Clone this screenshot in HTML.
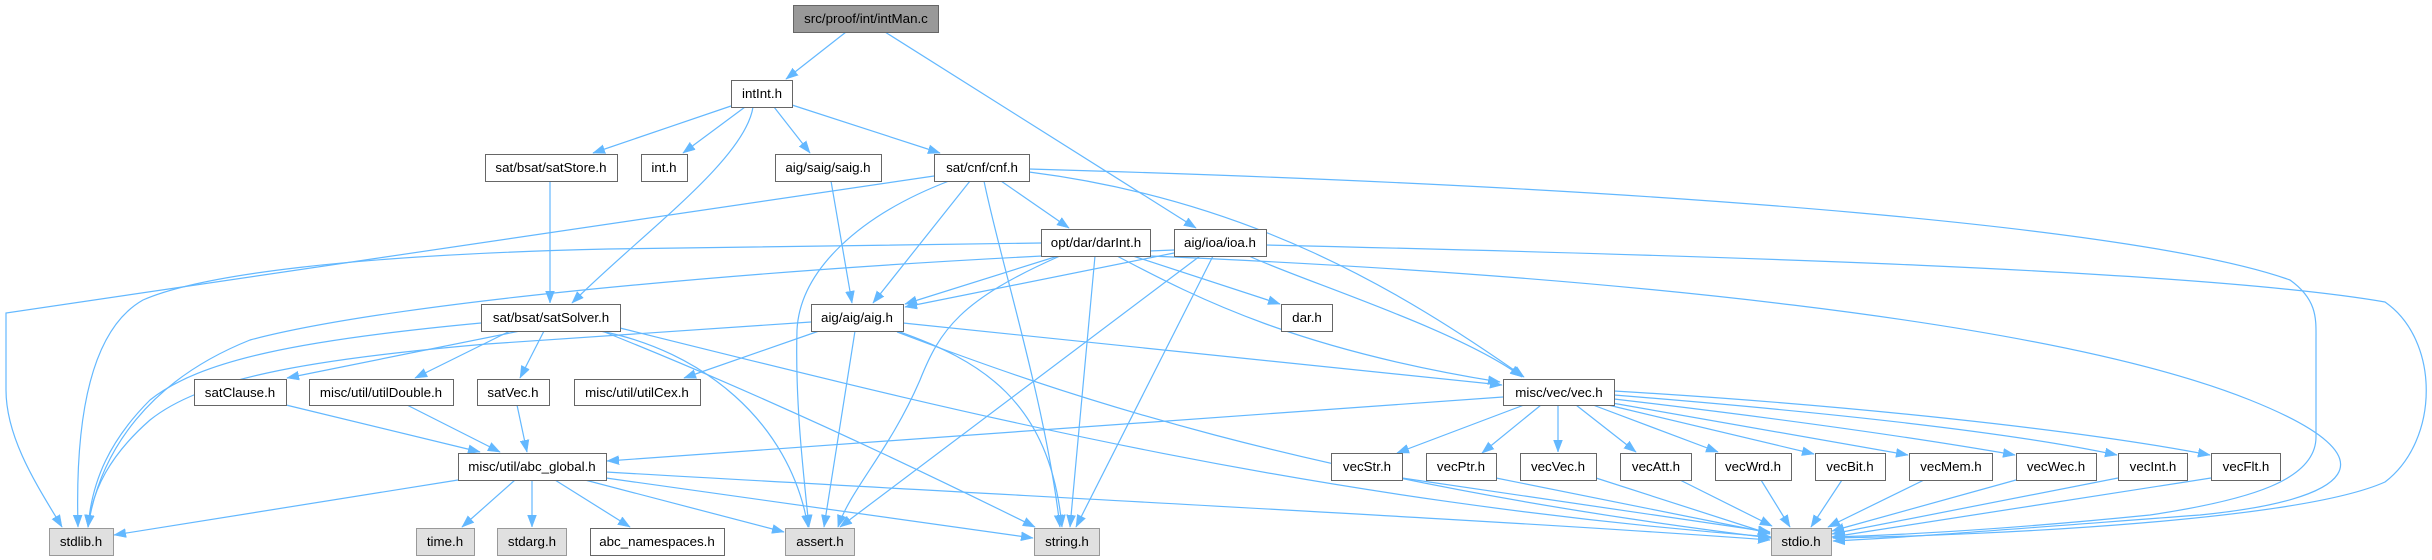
<!DOCTYPE html>
<html><head><meta charset="utf-8"><style>
html,body{margin:0;padding:0;background:#fff;}
svg{display:block;}
text{font-family:"Liberation Sans",Arial,sans-serif;font-size:13.33px;fill:#000;text-anchor:middle;}
.e{fill:none;stroke:#63b8ff;stroke-width:1.2;marker-end:url(#ah);}
.n{fill:#fff;stroke:#666;stroke-width:1;}
.l{fill:#e0e0e0;stroke:#999;stroke-width:1;}
.r{fill:#999;stroke:#666;stroke-width:1;}
</style></head><body>
<svg width="2432" height="560" viewBox="0 0 2432 560" xmlns="http://www.w3.org/2000/svg">
<defs>
<marker id="ah" markerUnits="userSpaceOnUse" markerWidth="13" markerHeight="11" refX="12" refY="5" orient="auto">
<path d="M0,0.5 L12,5 L0,9.5 z" fill="#63b8ff" stroke="#63b8ff" stroke-width="0.5"/>
</marker>
</defs>
<!-- edges -->
<path class="e" d="M846,32 L786,79"/>
<path class="e" d="M885,32 L1196,228"/>
<path class="e" d="M731,106 L593,153"/>
<path class="e" d="M745,107 L683,153"/>
<path class="e" d="M774,107 L810,153"/>
<path class="e" d="M792,105 L940,153"/>
<path class="e" d="M753,107 C745,160 640,235 572,303"/>
<path class="e" d="M550,181 L550,303"/>
<path class="e" d="M831,181 L852,303"/>
<path class="e" d="M934,176 L6,313 L6,390 C6,440 40,490 62,527"/>
<path class="e" d="M949,181 C860,215 800,270 797,330 C795,400 803,470 809,527"/>
<path class="e" d="M970,181 L873,303"/>
<path class="e" d="M984,181 C1000,260 1045,400 1060,527"/>
<path class="e" d="M1001,181 L1069,228"/>
<path class="e" d="M1029,172 C1250,200 1400,290 1524,377"/>
<path class="e" d="M1029,169 C1700,188 2150,230 2290,280 C2318,300 2316,320 2316,340 L2316,437 C2316,480 2250,500 2150,515 C2000,530 1900,535 1833,537"/>
<path class="e" d="M1041,243 L608,249 C350,255 200,275 143,300 C90,330 75,420 78,527"/>
<path class="e" d="M1058,256 L905,304"/>
<path class="e" d="M1060,256 C960,300 940,330 920,380 C890,450 850,490 838,527"/>
<path class="e" d="M1095,256 L1070,527"/>
<path class="e" d="M1133,256 L1280,304"/>
<path class="e" d="M1117,256 C1200,300 1300,350 1500,382"/>
<path class="e" d="M1150,256 C1600,275 2050,320 2250,400 C2400,460 2350,500 2200,515 C2000,530 1900,538 1833,541"/>
<path class="e" d="M1174,250 C800,265 400,300 250,340 C150,380 100,450 88,527"/>
<path class="e" d="M1174,253 L905,307"/>
<path class="e" d="M1200,256 L840,527"/>
<path class="e" d="M1213,256 L1076,527"/>
<path class="e" d="M1249,256 C1300,280 1460,330 1522,377"/>
<path class="e" d="M1266,245 C1700,255 2200,270 2385,302 C2440,340 2440,440 2385,482 C2300,520 2000,535 1833,538"/>
<path class="e" d="M481,323 C300,340 200,360 150,400 C110,440 92,480 88,527"/>
<path class="e" d="M520,331 L287,378"/>
<path class="e" d="M510,331 L415,378"/>
<path class="e" d="M544,331 L520,378"/>
<path class="e" d="M600,331 C700,350 790,420 808,527"/>
<path class="e" d="M602,331 C750,390 900,460 1035,527"/>
<path class="e" d="M620,328 C950,410 1300,500 1771,537"/>
<path class="e" d="M811,322 L487,344 C300,360 200,380 150,420 C110,455 92,490 88,527"/>
<path class="e" d="M819,331 L684,378"/>
<path class="e" d="M855,331 L824,527"/>
<path class="e" d="M897,331 C980,360 1050,400 1062,527"/>
<path class="e" d="M903,323 L1502,385"/>
<path class="e" d="M897,332 C1050,390 1300,480 1771,538"/>
<path class="e" d="M286,405 L480,452"/>
<path class="e" d="M407,405 L500,452"/>
<path class="e" d="M517,405 L527,452"/>
<path class="e" d="M1503,397 L607,461"/>
<path class="e" d="M1524,405 L1397,453"/>
<path class="e" d="M1541,405 L1482,453"/>
<path class="e" d="M1558,405 L1558,452"/>
<path class="e" d="M1576,405 L1636,452"/>
<path class="e" d="M1593,405 L1718,452"/>
<path class="e" d="M1608,405 L1814,454"/>
<path class="e" d="M1612,403 L1908,455"/>
<path class="e" d="M1614,399 C1750,415 1900,435 2015,455"/>
<path class="e" d="M1614,395 C1800,410 2000,430 2117,455"/>
<path class="e" d="M1614,391 C1850,405 2080,430 2210,455"/>
<path class="e" d="M1402,478 L1770,532"/>
<path class="e" d="M1496,478 L1770,533"/>
<path class="e" d="M1596,478 L1770,534"/>
<path class="e" d="M1680,480 L1772,526"/>
<path class="e" d="M1761,480 L1790,527"/>
<path class="e" d="M1842,480 L1811,527"/>
<path class="e" d="M1924,480 L1828,527"/>
<path class="e" d="M2016,480 L1832,531"/>
<path class="e" d="M2118,478 L1832,534"/>
<path class="e" d="M2211,478 L1832,537"/>
<path class="e" d="M458,480 L114,535"/>
<path class="e" d="M515,480 L462,527"/>
<path class="e" d="M532,480 L532,527"/>
<path class="e" d="M555,480 L630,527"/>
<path class="e" d="M585,480 L784,532"/>
<path class="e" d="M606,478 L1033,538"/>
<path class="e" d="M606,472 C1000,495 1500,520 1770,540"/>
<!-- nodes -->
<rect class="r" x="793.5" y="5.5" width="145" height="27"/><text x="866" y="23">src/proof/int/intMan.c</text>
<rect class="n" x="731.5" y="80.5" width="61" height="27"/><text x="762" y="98">intInt.h</text>
<rect class="n" x="485.5" y="154.5" width="132" height="27"/><text x="551" y="172">sat/bsat/satStore.h</text>
<rect class="n" x="641.5" y="154.5" width="46" height="27"/><text x="664" y="172">int.h</text>
<rect class="n" x="775.5" y="154.5" width="106" height="27"/><text x="828" y="172">aig/saig/saig.h</text>
<rect class="n" x="934.5" y="154.5" width="95" height="27"/><text x="982" y="172">sat/cnf/cnf.h</text>
<rect class="n" x="1041.5" y="229.5" width="109" height="27"/><text x="1096" y="247">opt/dar/darInt.h</text>
<rect class="n" x="1174.5" y="229.5" width="92" height="27"/><text x="1220" y="247">aig/ioa/ioa.h</text>
<rect class="n" x="481.5" y="304.5" width="139" height="27"/><text x="551" y="322">sat/bsat/satSolver.h</text>
<rect class="n" x="811.5" y="304.5" width="92" height="27"/><text x="857" y="322">aig/aig/aig.h</text>
<rect class="n" x="1281.5" y="304.5" width="51" height="27"/><text x="1307" y="322">dar.h</text>
<rect class="n" x="194.5" y="379.5" width="92" height="26"/><text x="240" y="397">satClause.h</text>
<rect class="n" x="309.5" y="379.5" width="144" height="26"/><text x="381" y="397">misc/util/utilDouble.h</text>
<rect class="n" x="477.5" y="379.5" width="72" height="26"/><text x="513" y="397">satVec.h</text>
<rect class="n" x="574.5" y="379.5" width="126" height="26"/><text x="637" y="397">misc/util/utilCex.h</text>
<rect class="n" x="1503.5" y="379.5" width="111" height="26"/><text x="1559" y="397">misc/vec/vec.h</text>
<rect class="n" x="458.5" y="453.5" width="148" height="27"/><text x="532" y="471">misc/util/abc_global.h</text>
<rect class="n" x="1331.5" y="453.5" width="71" height="27"/><text x="1367" y="471">vecStr.h</text>
<rect class="n" x="1426.5" y="453.5" width="70" height="27"/><text x="1461" y="471">vecPtr.h</text>
<rect class="n" x="1520.5" y="453.5" width="76" height="27"/><text x="1558" y="471">vecVec.h</text>
<rect class="n" x="1620.5" y="453.5" width="71" height="27"/><text x="1656" y="471">vecAtt.h</text>
<rect class="n" x="1715.5" y="453.5" width="76" height="27"/><text x="1753" y="471">vecWrd.h</text>
<rect class="n" x="1815.5" y="453.5" width="70" height="27"/><text x="1850" y="471">vecBit.h</text>
<rect class="n" x="1909.5" y="453.5" width="83" height="27"/><text x="1951" y="471">vecMem.h</text>
<rect class="n" x="2016.5" y="453.5" width="80" height="27"/><text x="2056" y="471">vecWec.h</text>
<rect class="n" x="2118.5" y="453.5" width="69" height="27"/><text x="2153" y="471">vecInt.h</text>
<rect class="n" x="2211.5" y="453.5" width="69" height="27"/><text x="2246" y="471">vecFlt.h</text>
<rect class="l" x="49.5" y="528.5" width="64" height="27"/><text x="81" y="546">stdlib.h</text>
<rect class="l" x="416.5" y="528.5" width="58" height="27"/><text x="445" y="546">time.h</text>
<rect class="l" x="497.5" y="528.5" width="69" height="27"/><text x="532" y="546">stdarg.h</text>
<rect class="n" x="590.5" y="528.5" width="134" height="27"/><text x="657" y="546">abc_namespaces.h</text>
<rect class="l" x="785.5" y="528.5" width="69" height="27"/><text x="820" y="546">assert.h</text>
<rect class="l" x="1034.5" y="528.5" width="65" height="27"/><text x="1067" y="546">string.h</text>
<rect class="l" x="1771.5" y="528.5" width="60" height="27"/><text x="1801" y="546">stdio.h</text>
</svg>
</body></html>
